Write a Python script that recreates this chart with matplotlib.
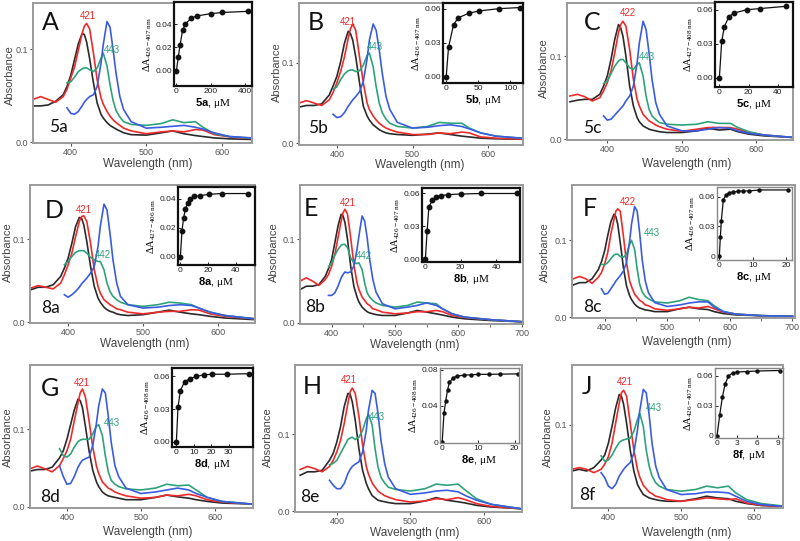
import numpy as np
import matplotlib.pyplot as plt

plt.rcParams['font.family'] = ['Liberation Sans', 'DejaVu Sans']
plt.rcParams['mathtext.fontset'] = 'custom'
plt.rcParams['mathtext.rm'] = 'Liberation Serif'
plt.rcParams['mathtext.it'] = 'Liberation Serif:italic'
plt.rcParams['mathtext.bf'] = 'Liberation Sans:bold'

nan = np.nan

# wavelength grid (nm) the spectra were read at
wl = [350, 360, 370, 380, 390, 395, 400, 405, 410, 415, 418, 421, 425, 430, 435, 440, 443,
      448, 452, 456, 460, 465, 470, 480, 500, 520, 535, 550, 565, 575, 590, 610, 650]
wl_long = wl + [700]

# ---- panel A (5a)
A_black = [.039, .039, .040, .044, .051, .060, .072, .089, .106, .117, .116, .108, .090, .064, .042, .030, .026,
           .021, .018, .016, .014, .012, .010, .008, .0075, .010, .012, .009, .007, .006, .0045, .0035, .0025]
A_red = [.046, .049, .046, .043, .049, .057, .069, .081, .099, .117, .125, .128, .122, .096, .067, .048, .041,
         .033, .028, .024, .021, .018, .015, .012, .009, .011, .012, .011, .0135, .013, .008, .0057, .003]
A_green = [nan, nan, nan, nan, nan, .064, .065, .070, .076, .079, .080, .080, .078, .076, .080, .090, .096,
           .082, .062, .045, .034, .027, .022, .019, .018, .020, .024, .021, .022, .016, .009, .006, .0035]
A_blue = [nan, nan, nan, nan, nan, .037, .031, .030, .033, .039, .043, .046, .049, .051, .060, .085, .105,
          .130, .124, .100, .074, .049, .035, .022, .015, .016, .017, .018, .016, .014, .010, .006, .004]
A_conc = [2, 13, 23, 38, 54, 85, 119, 200, 265, 418]
A_dA = [0, .012, .022, .035, .040, .045, .047, .049, .050, .051]

# ---- panel B (5b)
B_black = [.045, .047, .047, .049, .060, .071, .083, .101, .124, .139, .136, .128, .107, .075, .046, .034, .029,
           .023, .020, .017, .015, .013, .012, .011, .010, .0115, .013, .011, .009, .008, .0065, .0057, .005]
B_red = [.050, .053, .050, .047, .054, .063, .075, .089, .107, .130, .142, .148, .140, .107, .075, .050, .042,
         .034, .029, .025, .022, .019, .017, .014, .011, .011, .013, .012, .014, .013, .008, .0065, .005]
B_green = [nan, nan, nan, nan, nan, .067, .070, .079, .086, .090, .091, .091, .089, .090, .097, .109, .112,
           .095, .070, .050, .038, .030, .025, .021, .019, .021, .026, .025, .025, .019, .013, .009, .006]
B_blue = [nan, nan, nan, nan, nan, .036, .032, .033, .038, .046, .050, .054, .058, .064, .077, .105, .128,
          .148, .140, .116, .087, .058, .042, .026, .019, .020, .022, .023, .021, .018, .013, .009, .006]
B_conc = [0, 3.6, 11.5, 18.8, 35.4, 51, 82, 114.6]
B_dA = [0, .026, .046, .052, .056, .058, .060, .061]

# ---- panel C (5c)
C_black = [.045, .047, .048, .048, .054, .064, .076, .096, .120, .138, .134, .124, .100, .064, .040, .026, .021,
           .016, .014, .012, .011, .010, .009, .008, .008, .010, .013, .011, .012, .009, .006, .004, .002]
C_red = [.052, .054, .051, .046, .050, .058, .068, .082, .104, .128, .138, .142, .136, .108, .072, .048, .040,
         .030, .026, .022, .020, .017, .015, .012, .0095, .012, .014, .014, .014, .012, .008, .005, .002]
C_green = [nan, nan, nan, nan, nan, .067, .070, .079, .088, .094, .096, .096, .092, .086, .084, .090, .092,
           .076, .052, .036, .028, .0235, .020, .018, .017, .018, .021, .019, .019, .014, .009, .005, .002]
C_blue = [nan, nan, nan, nan, nan, .028, .023, .024, .029, .034, .037, .040, .046, .052, .064, .092, .116,
          .142, .132, .104, .072, .044, .030, .016, .010, .010, .012, .014, .013, .010, .007, .005, .002]
C_conc = [0, 1.6, 3.4, 6.6, 10, 18.7, 27.9, 45.7]
C_dA = [0, .032, .045, .054, .057, .060, .061, .063]

# ---- panel D (8a)
D_black = [.039, .042, .042, .045, .055, .065, .077, .095, .115, .126, .125, .117, .097, .067, .043, .029, .024,
           .018, .015, .013, .012, .010, .009, .008, .009, .012, .0145, .012, .010, .009, .007, .005, .003]
D_red = [.041, .044, .042, .040, .047, .057, .069, .083, .103, .121, .127, .128, .121, .095, .063, .043, .035,
         .027, .024, .021, .019, .016, .015, .012, .010, .012, .013, .013, .015, .0145, .010, .007, .004]
D_green = [nan, nan, nan, nan, nan, .069, .073, .079, .084, .086, .086, .086, .083, .078, .075, .073, .073,
           .063, .047, .037, .031, .027, .024, .021, .019, .021, .024, .023, .021, .017, .012, .008, .004]
D_blue = [nan, nan, nan, nan, nan, .033, .030, .033, .037, .042, .046, .049, .053, .059, .067, .091, .115,
          .142, .135, .107, .075, .047, .031, .021, .017, .018, .020, .021, .020, .017, .012, .008, .004]
D_conc = [0, 1.2, 2.4, 3.6, 5.3, 7.2, 10, 13.9, 21, 30, 49]
D_dA = [0, .018, .027, .033, .037, .040, .0415, .042, .043, .0435, .0435]

# ---- panel E (8b)
E_black = [.040, .044, .044, .046, .056, .065, .076, .096, .116, .130, .128, .120, .100, .068, .044, .031, .025,
           .019, .016, .0135, .012, .011, .010, .009, .009, .012, .015, .013, .011, .0095, .007, .005, .003, .0015]
E_red = [.050, .054, .050, .045, .052, .058, .068, .082, .102, .122, .132, .136, .130, .102, .070, .048, .040,
         .031, .027, .023, .021, .017, .016, .013, .011, .012, .0135, .0135, .015, .0135, .009, .0065, .004, .0015]
E_green = [nan, nan, nan, nan, nan, .067, .072, .081, .088, .093, .094, .094, .090, .078, .072, .071, .072,
           .064, .048, .036, .031, .027, .024, .021, .019, .021, .025, .024, .023, .017, .011, .007, .004, .0015]
E_blue = [nan, nan, nan, nan, nan, .033, .033, .036, .044, .054, .058, .061, .060, .061, .068, .088, .104,
          .128, .122, .102, .076, .052, .037, .023, .017, .019, .021, .024, .021, .017, .011, .007, .004, .0015]
E_conc = [0, 1, 2, 4, 6, 9, 13, 20, 31.5, 52]
E_dA = [0, .026, .048, .054, .057, .058, .059, .0595, .060, .060]

# ---- panel F (8c)
F_black = [.042, .045, .045, .050, .062, .072, .086, .106, .124, .134, .131, .121, .097, .065, .041, .028, .023,
           .017, .014, .012, .011, .0095, .009, .0073, .0073, .011, .013, .011, .010, .0073, .0047, .003, .002, .0013]
F_red = [.050, .053, .050, .044, .052, .058, .069, .084, .108, .127, .138, .141, .138, .106, .071, .047, .040,
         .030, .026, .022, .020, .016, .015, .011, .009, .011, .013, .012, .014, .011, .0065, .004, .002, .0013]
F_green = [nan, nan, nan, nan, nan, .069, .068, .071, .076, .081, .082, .082, .079, .078, .082, .095, .100,
           .088, .063, .043, .033, .027, .024, .020, .0185, .0215, .026, .023, .0215, .015, .0073, .004, .002, .0013]
F_blue = [nan, nan, nan, nan, nan, .037, .030, .031, .037, .043, .047, .050, .054, .060, .071, .099, .121,
          .144, .138, .110, .075, .047, .032, .019, .014, .016, .0185, .020, .020, .013, .0073, .004, .002, .0013]
F_conc = [0, 0.3, 0.6, 1.2, 2, 3, 4, 5.5, 7, 9, 12, 20.5]
F_dA = [0, .019, .036, .057, .062, .064, .065, .0655, .066, .066, .067, .067]

# ---- panel G (8d)
G_black = [.046, .048, .048, .051, .063, .072, .087, .106, .125, .139, .137, .128, .104, .072, .047, .032, .026,
           .019, .016, .014, .013, .012, .011, .009, .009, .012, .015, .0127, .011, .009, .0068, .0047, .0034]
G_red = [.049, .0525, .049, .045, .053, .062, .072, .087, .111, .134, .147, .152, .142, .111, .077, .0525, .043,
         .032, .028, .024, .022, .019, .017, .014, .011, .012, .015, .014, .016, .014, .009, .006, .0034]
G_green = [nan, nan, nan, nan, .075, .066, .064, .068, .077, .084, .086, .087, .087, .087, .094, .104, .106,
           .092, .066, .045, .034, .029, .026, .023, .0216, .024, .029, .027, .028, .0216, .012, .0068, .0034]
G_blue = [nan, nan, nan, nan, .053, .039, .029, .030, .039, .051, .056, .060, .062, .064, .079, .108, .130,
          .152, .147, .117, .083, .053, .039, .024, .017, .019, .0216, .024, .0216, .017, .012, .0068, .0034]
G_conc = [0, 0.95, 2.3, 4.7, 8, 11.4, 15.9, 20.5, 28.8, 41.7]
G_dA = [0, .032, .047, .055, .058, .060, .0615, .062, .062, .0625]

# ---- panel H (8e)
H_black = [.0465, .051, .051, .053, .066, .075, .090, .110, .136, .153, .152, .142, .118, .081, .053, .036, .029,
           .020, .017, .014, .013, .012, .011, .0096, .0096, .013, .0174, .014, .012, .0104, .0074, .0052, .003]
H_red = [.054, .058, .055, .051, .058, .066, .077, .092, .114, .140, .155, .160, .153, .123, .086, .058, .048,
         .0365, .031, .026, .023, .020, .018, .0148, .0117, .013, .016, .0148, .0174, .0148, .0096, .006, .003]
H_green = [nan, nan, nan, nan, .060, .062, .066, .075, .084, .093, .095, .096, .093, .096, .105, .120, .126,
           .112, .081, .057, .044, .0365, .031, .028, .026, .029, .035, .0335, .035, .027, .016, .0087, .003]
H_blue = [nan, nan, nan, nan, .040, .0335, .029, .029, .0357, .0487, .054, .058, .061, .064, .077, .105, .131,
          .157, .153, .127, .092, .062, .044, .029, .0217, .0235, .026, .027, .025, .020, .014, .0087, .003]
H_conc = [0, 0.5, 1, 1.5, 2, 3, 4, 6, 8, 10, 13, 16, 21]
H_dA = [0, .032, .046, .058, .066, .071, .073, .074, .0745, .075, .075, .0752, .0755]

# ---- panel J (8f)
J_black = [.045, .047, .045, .049, .058, .064, .078, .098, .120, .136, .134, .124, .102, .070, .045, .029, .024,
           .017, .015, .013, .012, .011, .010, .009, .009, .012, .015, .013, .012, .009, .0063, .004, .0024]
J_red = [.047, .049, .047, .043, .047, .053, .062, .078, .102, .126, .138, .141, .134, .102, .070, .047, .038,
         .028, .024, .020, .018, .015, .014, .011, .009, .011, .013, .012, .011, .012, .007, .0043, .0024]
J_green = [nan, nan, nan, nan, .063, .0565, .058, .064, .072, .079, .081, .082, .083, .084, .092, .106, .114,
           .098, .070, .051, .039, .031, .027, .023, .021, .023, .027, .025, .027, .019, .011, .0063, .0024]
J_blue = [nan, nan, nan, nan, .043, .037, .027, .024, .029, .039, .043, .047, .051, .055, .066, .094, .116,
          .142, .138, .112, .078, .051, .037, .023, .017, .018, .020, .020, .019, .015, .009, .005, .0024]
J_conc = [0, 0.4, 0.8, 1.2, 1.7, 2.3, 3, 4.5, 6, 9.3]
J_dA = [0, .021, .039, .052, .060, .063, .064, .0645, .065, .0655]

colors = ['#2a2a2a', '#ee2a2a', '#2ea37a', '#3a5ce0']

W, H = 800, 541
def rect(l, t, r, b):
    return [l / W, 1 - b / H, (r - l) / W, (b - t) / H]
def fx(x):
    return x / W
def fy(y):
    return 1 - y / H

panels = [
    dict(letter='A', cmpd='5a', wl=wl, sp=(A_black, A_red, A_green, A_blue), conc=A_conc, dA=A_dA,
         box=(33, 3, 252, 143), xlim=(350, 640), ylim=(-0.001, 0.150),
         inset=(174, 2, 252, 86), ixlim=(-12, 440), iylim=(-0.013, 0.059), ixt=[0, 200, 400],
         iyt=[0, .02, .04], iyl=['0.00', '0.02', '0.04'], sub='426-407',
         lab_letter=(50, 23), lab_cmpd=(58, 127), lab_red=('421', 88, 16), lab_green=('443', 112, 50),
         absx=10, absy=75, wlx=148, wly=164),
    dict(letter='B', cmpd='5b', wl=wl, sp=(B_black, B_red, B_green, B_blue), conc=B_conc, dA=B_dA,
         box=(299, 3, 523, 145), xlim=(350, 646), ylim=(-0.002, 0.174),
         inset=(443, 3, 523, 83), ixlim=(-5, 120), iylim=(-0.0053, 0.065), ixt=[0, 50, 100],
         iyt=[0, .03, .06], iyl=['0.00', '0.03', '0.06'], sub='426-407',
         lab_letter=(316, 22), lab_cmpd=(318, 128), lab_red=('421', 348, 22), lab_green=('443', 375, 47),
         absx=277, absy=72, wlx=420, wly=165),
    dict(letter='C', cmpd='5c', wl=wl, sp=(C_black, C_red, C_green, C_blue), conc=C_conc, dA=C_dA,
         box=(567, 3, 793, 140), xlim=(346, 649), ylim=(-0.001, 0.164),
         inset=(715, 2, 793, 87), ixlim=(-3, 50.5), iylim=(-0.0082, 0.0668), ixt=[0, 20, 40],
         iyt=[0, .03, .06], iyl=['0.00', '0.03', '0.06'], sub='427-408',
         lab_letter=(592, 23), lab_cmpd=(592, 128), lab_red=('422', 628, 13), lab_green=('443', 647, 57),
         absx=544, absy=68, wlx=687, wly=164),
    dict(letter='D', cmpd='8a', wl=wl, sp=(D_black, D_red, D_green, D_blue), conc=D_conc, dA=D_dA,
         box=(30, 185, 255, 323), xlim=(349, 650), ylim=(-0.001, 0.165),
         inset=(178, 187, 255, 265), ixlim=(-1.7, 53.8), iylim=(-0.0057, 0.048), ixt=[0, 20, 40],
         iyt=[0, .02, .04], iyl=['0.00', '0.02', '0.04'], sub='427-406',
         lab_letter=(54, 210), lab_cmpd=(50, 308), lab_red=('421', 84, 210), lab_green=('442', 103, 255),
         absx=8, absy=252, wlx=145, wly=344),
    dict(letter='E', cmpd='8b', wl=wl_long, sp=(E_black, E_red, E_green, E_blue), conc=E_conc, dA=E_dA,
         box=(300, 185, 523, 324), xlim=(350, 702), ylim=(-0.0012, 0.165),
         inset=(422, 188, 520, 262), ixlim=(-1.9, 53.5), iylim=(-0.0024, 0.065), ixt=[0, 20, 40],
         iyt=[0, .03, .06], iyl=['0.00', '0.03', '0.06'], sub='426-407',
         lab_letter=(311, 208), lab_cmpd=(315, 307), lab_red=('421', 348, 203), lab_green=('442', 364, 256),
         absx=274, absy=252, wlx=415, wly=345),
    dict(letter='F', cmpd='8c', wl=wl_long, sp=(F_black, F_red, F_green, F_blue), conc=F_conc, dA=F_dA,
         box=(572, 185, 795, 318), xlim=(348, 704), ylim=(-0.001, 0.172),
         inset=(717, 187, 792, 260), ixlim=(-0.7, 21.8), iylim=(-0.004, 0.070), ixt=[0, 10, 20],
         iyt=[0, .03, .06], iyl=['0', '0.03', '0.06'], sub='426-407',
         lab_letter=(590, 208), lab_cmpd=(592, 307), lab_red=('422', 628, 202), lab_green=('443', 652, 233),
         absx=545, absy=252, wlx=687, wly=342),
    dict(letter='G', cmpd='8d', wl=wl, sp=(G_black, G_red, G_green, G_blue), conc=G_conc, dA=G_dA,
         box=(30, 365, 253, 508), xlim=(350, 652), ylim=(-0.0017, 0.183),
         inset=(172, 368, 253, 447), ixlim=(-2.5, 44), iylim=(-0.0046, 0.0677), ixt=[0, 10, 20, 30],
         iyt=[0, .03, .06], iyl=['0.00', '0.03', '0.06'], sub='426-408',
         lab_letter=(50, 388), lab_cmpd=(50, 497), lab_red=('421', 82, 383), lab_green=('443', 112, 423),
         absx=8, absy=437, wlx=148, wly=532),
    dict(letter='H', cmpd='8e', wl=wl, sp=(H_black, H_red, H_green, H_blue), conc=H_conc, dA=H_dA,
         box=(295, 365, 522, 512), xlim=(343, 652), ylim=(-0.0013, 0.19),
         inset=(440, 368, 519, 443), ixlim=(-0.6, 21.2), iylim=(-0.001, 0.082), ixt=[0, 10, 20],
         iyt=[0, .04, .08], iyl=['0', '0.04', '0.08'], sub='426-408',
         lab_letter=(312, 387), lab_cmpd=(310, 497), lab_red=('421', 349, 380), lab_green=('443', 377, 417),
         absx=268, absy=437, wlx=415, wly=533),
    dict(letter='J', cmpd='8f', wl=wl, sp=(J_black, J_red, J_green, J_blue), conc=J_conc, dA=J_dA,
         box=(572, 365, 783, 508), xlim=(350, 640), ylim=(0.001, 0.171),
         inset=(715, 368, 783, 438), ixlim=(-0.3, 9.8), iylim=(-0.002, 0.068), ixt=[0, 3, 6, 9],
         iyt=[0, .03, .06], iyl=['0', '0.03', '0.06'], sub='426-407',
         lab_letter=(587, 387), lab_cmpd=(587, 495), lab_red=('421', 625, 382), lab_green=('443', 654, 408),
         absx=548, absy=437, wlx=687, wly=533),
]

fig = plt.figure(figsize=(8, 5.41), dpi=100)

for p in panels:
    ax = fig.add_axes(rect(*p['box']))
    for y, c in zip(p['sp'], colors):
        ax.plot(p['wl'], y, color=c, lw=1.2)
    ax.set_xlim(*p['xlim'])
    ax.set_ylim(*p['ylim'])
    if p['wl'] is wl_long:
        ax.set_xticks([400, 500, 600, 700])
        ax.set_xticks([450, 550, 650], minor=True)
    else:
        ax.set_xticks([400, 500, 600])
    if p['letter'] == 'J':
        ax.set_yticks([0.1])
        ax.set_yticklabels(['0.1'])
    else:
        ax.set_yticks([0, 0.1])
        ax.set_yticklabels(['0.0', '0.1'])
    ax.tick_params(direction='out', length=2, width=0.8, labelsize=6.5, colors='#555', pad=1.5)
    ax.tick_params(which='minor', direction='out', length=2, color='#555')
    for s in ax.spines.values():
        s.set_color('#9a9a9a')
        s.set_linewidth(1.4)

    fig.text(fx(p['absx']), fy(p['absy']), 'Absorbance', rotation=90, ha='center', va='center',
             fontsize=8, color='#444')
    fig.text(fx(p['wlx']), fy(p['wly']), 'Wavelength (nm)', ha='center', va='center',
             fontsize=8.5, color='#444')
    fig.text(fx(p['lab_letter'][0]), fy(p['lab_letter'][1]), p['letter'], ha='center', va='center',
             fontsize=18, family=['Lato', 'DejaVu Sans'], color='#111')
    fig.text(fx(p['lab_cmpd'][0]), fy(p['lab_cmpd'][1]), p['cmpd'], ha='center', va='center',
             fontsize=12.5, family=['Lato', 'DejaVu Sans'], color='#111')
    t, x, y = p['lab_red']
    fig.text(fx(x), fy(y), t, ha='center', va='center', fontsize=7, color=colors[1])
    t, x, y = p['lab_green']
    fig.text(fx(x), fy(y), t, ha='center', va='center', fontsize=7, color=colors[2])

    # titration inset
    ia = fig.add_axes(rect(*p['inset']))
    ia.set_facecolor('white')
    light = p['letter'] in ('F', 'H', 'J')
    ia.plot(p['conc'], p['dA'], color='#111', lw=0.9, marker='o',
            ms=2.2 if light else 3.2, mfc='#111', mec='#111')
    ia.set_xlim(*p['ixlim'])
    ia.set_ylim(*p['iylim'])
    ia.set_xticks(p['ixt'])
    ia.set_yticks(p['iyt'])
    ia.set_yticklabels(p['iyl'])
    ia.tick_params(direction='in', length=2, width=0.7, labelsize=6, colors='#222', pad=1.5)
    for s in ia.spines.values():
        s.set_color('#888' if light else '#111')
        s.set_linewidth(1.0 if light else 1.6)
    ia.set_ylabel(r'$\Delta\mathrm{A}_{%s\ \mathrm{nm}}$' % p['sub'], fontsize=7.5, labelpad=1)
    ia.set_xlabel(r'$\mathbf{%s}$, $\mathrm{\mu M}$' % p['cmpd'], fontsize=8, labelpad=1)

plt.savefig('out.png', dpi=100)
